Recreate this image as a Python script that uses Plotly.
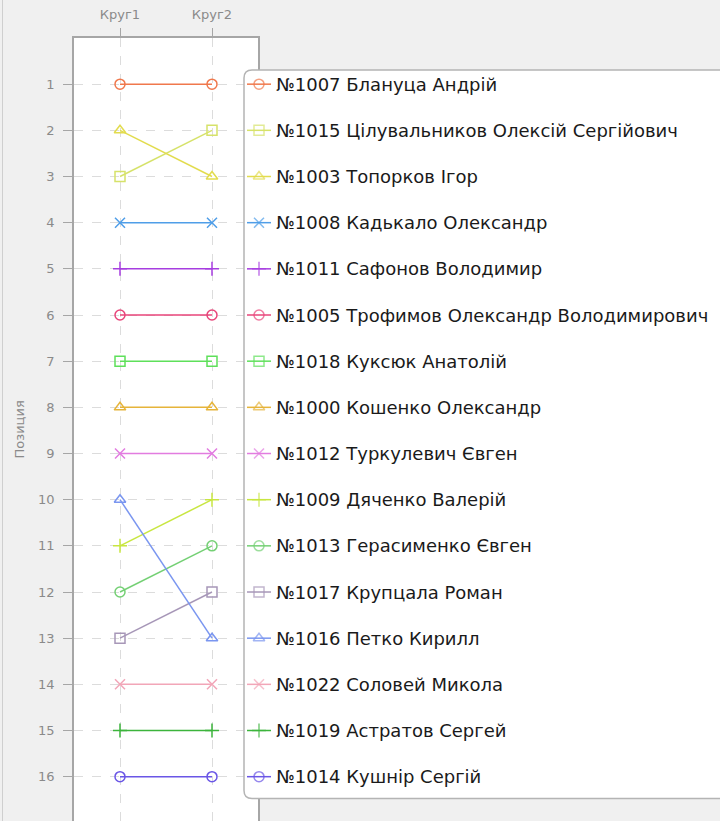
import plotly.graph_objects as go

# ---- data ----
rounds = ["Круг1", "Круг2"]
names = [
    "№1007 Блануца Андрій",
    "№1015 Цілувальников Олексій Сергійович",
    "№1003 Топорков Ігор",
    "№1008 Кадькало Олександр",
    "№1011 Сафонов Володимир",
    "№1005 Трофимов Олександр Володимирович",
    "№1018 Куксюк Анатолій",
    "№1000 Кошенко Олександр",
    "№1012 Туркулевич Євген",
    "№1009 Дяченко Валерій",
    "№1013 Герасименко Євген",
    "№1017 Крупцала Роман",
    "№1016 Петко Кирилл",
    "№1022 Соловей Микола",
    "№1019 Астратов Сергей",
    "№1014 Кушнір Сергій",
]
round1 = [1, 3, 2, 4, 5, 6, 7, 8, 9, 11, 12, 13, 10, 14, 15, 16]
round2 = [1, 2, 3, 4, 5, 6, 7, 8, 9, 10, 11, 12, 13, 14, 15, 16]
colors = [
    "#f0784c", "#d6e26a", "#e2dc4e", "#4f9ee8", "#a63de0", "#e8457a",
    "#5ee05a", "#e6b43a", "#e27ce0", "#c8e640", "#74d074", "#a797b8",
    "#7a96f0", "#f2a6b8", "#3cb43c", "#6a56e6",
]
symbol_cycle = ["circle-open", "square-open", "triangle-up-open",
                "x-thin-open", "cross-thin-open"]
positions = list(range(1, 17))

# ---- layout geometry (pixels) ----
W, H = 720, 821
PX0, PX1, PTOP = 74, 258, 38
YMAX = 16.96
ROWPX = 46.13
FONT = "DejaVu Sans"
AXIS_GRAY = "#a6a6a6"
LABEL_GRAY = "#8a8a8a"
GRID = "#dcdcdc"

fig = go.Figure()

for i, name in enumerate(names):
    sym = symbol_cycle[i % len(symbol_cycle)]
    fig.add_trace(go.Scatter(
        x=[0, 1], y=[round1[i], round2[i]],
        mode="lines+markers",
        line=dict(color=colors[i], width=1.5),
        marker=dict(symbol=sym, size=10, color=colors[i],
                    line=dict(color=colors[i], width=1.5)),
        xaxis="x", yaxis="y", showlegend=False, name=name,
    ))

# custom legend (rows aligned with the final ranking)
LX0, LX1, LXM, LTX = 247, 271, 259, 274
for i, name in enumerate(names):
    sym = symbol_cycle[i % len(symbol_cycle)]
    row = round2[i]
    fig.add_trace(go.Scatter(
        x=[LX0, LXM, LX1], y=[row, row, row],
        mode="lines+markers",
        line=dict(color=colors[i], width=1.5),
        marker=dict(symbol=sym, size=[0, 10, 0], color=colors[i],
                    line=dict(color=colors[i], width=1.5)),
        xaxis="x2", yaxis="y2", showlegend=False, hoverinfo="skip",
    ))
    fig.add_annotation(x=LTX, y=row, xref="x2", yref="y2", text=name,
                       showarrow=False, xanchor="left", yanchor="middle",
                       font=dict(family=FONT, size=18, color="#1a1a1a"))

# legend box with rounded corners (in x2 pixel units / y2 value units)
bx0, bx1 = 244, 760
by0, by1 = (70 - PTOP) / ROWPX, (798 - PTOP) / ROWPX
r = 8
ry = r / ROWPX
path = (f"M {bx0 + r},{by0} L {bx1 - r},{by0} Q {bx1},{by0} {bx1},{by0 + ry} "
        f"L {bx1},{by1 - ry} Q {bx1},{by1} {bx1 - r},{by1} "
        f"L {bx0 + r},{by1} Q {bx0},{by1} {bx0},{by1 - ry} "
        f"L {bx0},{by0 + ry} Q {bx0},{by0} {bx0 + r},{by0} Z")

shapes = [
    dict(type="rect", xref="paper", yref="paper", x0=PX0 / W, x1=PX1 / W,
         y0=-0.05, y1=1, fillcolor="white", line=dict(width=0), layer="below"),
    dict(type="line", xref="paper", yref="paper", x0=2.5 / W, x1=2.5 / W,
         y0=-0.05, y1=1.2, line=dict(color="#cfcfcf", width=1), layer="below"),
    dict(type="path", xref="x2", yref="y2", path=path, fillcolor="white",
         line=dict(color="#b4b4b4", width=1.5), layer="below"),
]

fig.add_annotation(x=19 / W, y=0.5, xref="paper", yref="paper", text="Позиция",
                   textangle=-90, showarrow=False, xanchor="center",
                   yanchor="middle",
                   font=dict(family=FONT, size=13, color=LABEL_GRAY))

fig.update_layout(
    width=W, height=H, autosize=False,
    margin=dict(l=0, r=0, t=PTOP, b=0, pad=0),
    paper_bgcolor="#f0f0f0", plot_bgcolor="rgba(0,0,0,0)",
    font=dict(family=FONT, size=13, color=LABEL_GRAY),
    shapes=shapes,
    xaxis=dict(domain=[PX0 / W, PX1 / W], range=[-0.5, 1.5], side="top",
               tickvals=[0, 1], ticktext=rounds, ticks="outside", ticklen=8,
               tickcolor=AXIS_GRAY, tickwidth=1, ticklabelstandoff=4,
               tickfont=dict(family=FONT, size=13, color=LABEL_GRAY),
               showgrid=True, gridcolor=GRID, griddash="dash", gridwidth=1,
               showline=True, linecolor=AXIS_GRAY, linewidth=1.5, mirror=False,
               zeroline=False, fixedrange=True, anchor="y"),
    yaxis=dict(domain=[0, 1], range=[YMAX, 0], tickvals=positions,
               ticks="outside", ticklen=9, tickcolor=AXIS_GRAY, tickwidth=1,
               ticklabelstandoff=6,
               tickfont=dict(family=FONT, size=13, color=LABEL_GRAY),
               showgrid=True, gridcolor=GRID, griddash="dash", gridwidth=1,
               showline=True, linecolor=AXIS_GRAY, linewidth=1.5, mirror=True,
               zeroline=False, fixedrange=True, anchor="x"),
    xaxis2=dict(domain=[236 / W, 1], range=[236, 720], anchor="y2",
                visible=False, fixedrange=True),
    yaxis2=dict(domain=[0, 1], range=[YMAX, 0], anchor="x2",
                visible=False, fixedrange=True),
)

fig.write_html("out.html",
               config={"displayModeBar": False},
               post_script="document.body.style.margin='0';"
                           "document.body.style.background='#f0f0f0';")
